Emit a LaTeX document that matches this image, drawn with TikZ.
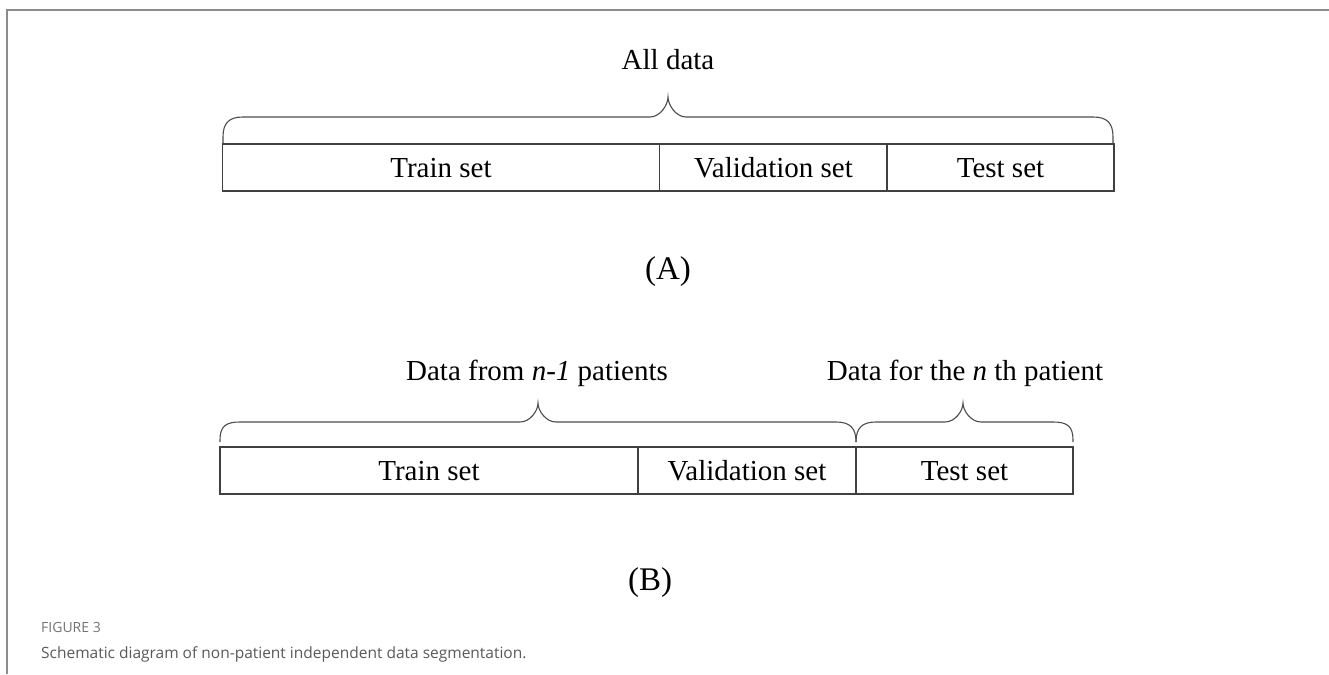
\documentclass[tikz,border=0pt]{standalone}
\usepackage{fontspec}
\setmainfont{Liberation Serif}
\newfontfamily\capfont{Open Sans}
\begin{document}
\begin{tikzpicture}[x=1pt,y=-1pt,
  cell/.style={draw=black!75,line width=1.1pt,minimum height=47pt,inner sep=0pt,
    text height=22pt,text depth=3pt,font=\fontsize{29}{32}\selectfont},
  brace/.style={draw=black!70,line width=1.1pt},
  label/.style={anchor=base,font=\fontsize{29}{32}\selectfont},
  panel/.style={anchor=base,font=\fontsize{33}{36}\selectfont},
  frame/.style={draw=black!45,line width=1.4pt}]
\useasboundingbox (0,0) rectangle (1329,674);
% page frame
\draw[frame] (7,674) -- (7,10) -- (1329,10);

% --- panel A ---
\node[cell,minimum width=437pt] (a1) at (441,167.5) {Train set};
\node[cell,minimum width=228pt] (a2) at (773.5,167.5) {Validation set};
\node[cell,minimum width=227pt] (a3) at (1000.5,167.5) {Test set};
\coordinate (ab1) at (223,143);
\coordinate (ab2) at (1113,143);
\coordinate (at) at (668,97);
\draw[brace] (ab1) -- ++(0,-6) .. controls +(0,-14) and +(-14,0) .. (243,117)
  -- (650,117) .. controls +(10,0) and +(0,8) .. (at)
  .. controls +(0,8) and +(-10,0) .. (686,117)
  -- (1093,117) .. controls +(14,0) and +(0,-14) .. (1113,137) -- (ab2);
\node[label] (alld) at (668,70) {All data};
\node[panel] (pa) at (668,279) {(A)};

% --- panel B ---
\node[cell,minimum width=418pt] (b1) at (429,470.5) {Train set};
\node[cell,minimum width=218pt] (b2) at (747,470.5) {Validation set};
\node[cell,minimum width=217pt] (b3) at (964.5,470.5) {Test set};
\coordinate (bb1) at (220,442);
\coordinate (bm) at (856,442);
\coordinate (bb2) at (1073,442);
\draw[brace] (bb1) -- ++(0,-2) .. controls +(0,-14) and +(-14,0) .. (240,422)
  -- (520,422) .. controls +(10,0) and +(0,8) .. (538,403)
  .. controls +(0,8) and +(-10,0) .. (556,422)
  -- (836,422) .. controls +(14,0) and +(0,-14) .. (bm);
\draw[brace] (bm) .. controls +(0,-14) and +(-14,0) .. (876,422)
  -- (945,422) .. controls +(10,0) and +(0,8) .. (963,403)
  .. controls +(0,8) and +(-10,0) .. (981,422)
  -- (1053,422) .. controls +(14,0) and +(0,-14) .. (1073,440) -- (bb2);
\node[label] (lb1) at (537,380) {Data from \textit{n-1} patients};
\node[label] (lb2) at (965,380) {Data for the \textit{n} th patient};
\node[panel] (pb) at (650,590) {(B)};

% --- caption ---
\node[anchor=base west,inner sep=0pt,text=black!55,font=\capfont\fontsize{14}{16}\selectfont] (fig) at (41,632) {FIGURE 3};
\node[anchor=base west,inner sep=0pt,text=black!65,font=\capfont\fontsize{15.5}{18}\selectfont] (cap) at (41,658) {Schematic diagram of non-patient independent data segmentation.};
\end{tikzpicture}
\end{document}
